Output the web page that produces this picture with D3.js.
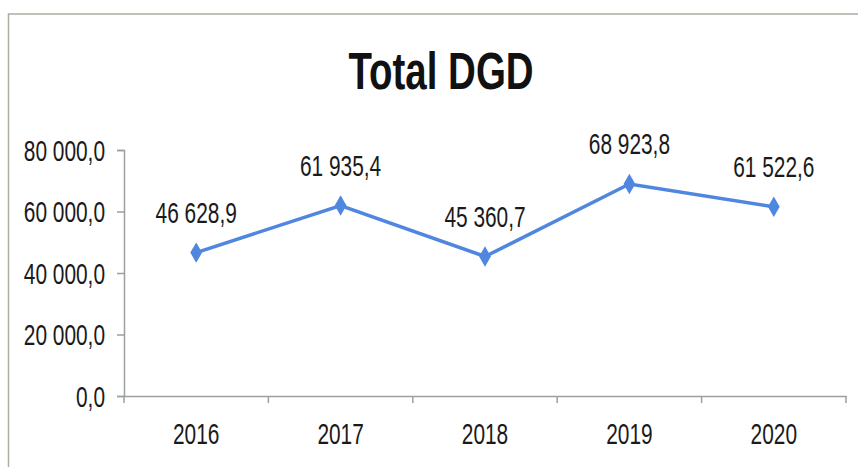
<!DOCTYPE html>
<html>
<head>
<meta charset="utf-8">
<script src="https://cdn.jsdelivr.net/npm/d3@7"></script>
<style>
  body { margin: 0; background: #fff; }
  text { font-family: "Liberation Sans", Arial, sans-serif; fill: #1a1a1a; }
</style>
</head>
<body>
<div id="chart"></div>
<script>
// data
const years = ["2016", "2017", "2018", "2019", "2020"];
const totals = [46628.9, 61935.4, 45360.7, 68923.8, 61522.6];
const yTicks = [0, 20000, 40000, 60000, 80000];

const width = 858, height = 467;
const margin = {left: 124, right: 12, top: 150, bottom: 71};
const narrow = 0.72;   // squeeze text to look like Arial Narrow
const fontSize = 29;

const svg = d3.select("#chart").append("svg")
    .attr("width", width)
    .attr("height", height);

// frame round the chart
svg.append("rect")
    .attr("x", 8.5).attr("y", 14)
    .attr("width", width + 20).attr("height", height + 20)
    .attr("fill", "none")
    .attr("stroke", "#a9b0a4")
    .attr("stroke-width", 1.5);

// title
svg.append("text")
    .attr("transform", "translate(441,89) scale(0.74,1)")
    .attr("text-anchor", "middle")
    .attr("font-size", 52)
    .attr("font-weight", "bold")
    .style("fill", "#111")
    .text("Total DGD");

const x = d3.scaleBand()
    .domain(years)
    .range([margin.left, width - margin.right]);

const y = d3.scaleLinear()
    .domain([0, 80000])
    .range([height - margin.bottom, margin.top]);

const fmt = v => d3.format(",.1f")(v).replace(/,/g, " ").replace(".", ",");

// y axis
const yAxis = svg.append("g")
    .attr("transform", `translate(${margin.left},0)`)
    .call(d3.axisLeft(y).tickValues(yTicks).tickSize(7).tickFormat(fmt));
yAxis.selectAll("text")
    .attr("font-size", fontSize)
    .attr("x", 0)
    .attr("dy", "0.36em")
    .attr("transform", `translate(-19,0) scale(${narrow},1)`);

// x axis
const xAxis = svg.append("g")
    .attr("transform", `translate(0,${y(0)})`)
    .call(d3.axisBottom(x).tickSize(0).tickPadding(27));
xAxis.selectAll("text")
    .attr("font-size", fontSize)
    .attr("transform", `scale(${narrow},1)`);

// ticks between categories
xAxis.selectAll(".sep")
    .data(d3.range(years.length + 1))
    .join("line")
    .attr("class", "sep")
    .attr("x1", i => margin.left + i * x.step())
    .attr("x2", i => margin.left + i * x.step())
    .attr("y1", 0).attr("y2", 7);

svg.selectAll(".domain, .tick line, .sep")
    .attr("stroke", "#9aa09a")
    .attr("stroke-width", 1.5);

const cx = d => x(d) + x.bandwidth() / 2;

// line
svg.append("path")
    .datum(totals)
    .attr("fill", "none")
    .attr("stroke", "#4f86e0")
    .attr("stroke-width", 3.5)
    .attr("d", d3.line().x((d, i) => cx(years[i])).y(d => y(d)));

// diamond markers
svg.selectAll(".pt")
    .data(totals)
    .join("path")
    .attr("class", "pt")
    .attr("transform", (d, i) => `translate(${cx(years[i])},${y(d)})`)
    .attr("d", d3.symbol(d3.symbolDiamond, 120))
    .attr("fill", "#4f86e0");

// value labels
svg.selectAll(".lbl")
    .data(totals)
    .join("text")
    .attr("class", "lbl")
    .attr("transform", (d, i) => `translate(${cx(years[i])},${y(d) - 30}) scale(${narrow},1)`)
    .attr("text-anchor", "middle")
    .attr("font-size", fontSize)
    .text(fmt);
</script>
</body>
</html>
